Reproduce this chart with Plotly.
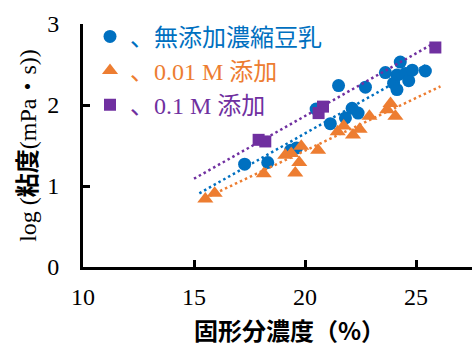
import plotly.graph_objects as go

# Solid content (%) vs log viscosity for three sample groups
blue_name = "、無添加濃縮豆乳"
blue_x = [17.28, 18.32, 19.35, 19.62, 20.50, 21.14, 21.51, 21.82, 22.12, 22.39,
          22.72, 23.62, 24.29, 24.14, 24.52, 24.67, 24.14, 23.99, 25.42, 24.83]
blue_y = [1.27, 1.29, 1.44, 1.47, 1.95, 1.77, 2.24, 1.84, 1.96, 1.90,
          2.22, 2.40, 2.53, 2.37, 2.39, 2.30, 2.19, 2.27, 2.42, 2.43]

orange_name = "、0.01 M 添加"
orange_x = [15.51, 15.93, 18.14, 19.11, 19.38, 19.56, 19.74, 19.83, 20.59, 21.47,
            21.74, 22.16, 22.46, 22.90, 23.70, 23.85, 24.07]
orange_y = [0.84, 0.91, 1.15, 1.38, 1.40, 1.16, 1.29, 1.49, 1.44, 1.67,
            1.74, 1.63, 1.70, 1.86, 1.94, 2.02, 1.86]

purple_name = "、0.1 M 添加"
purple_x = [17.91, 18.21, 20.61, 20.81, 25.87]
purple_y = [1.57, 1.55, 1.90, 1.98, 2.71]

# Linear trend line end points for each group
blue_trend_x = [15.24, 25.42]
blue_trend_y = [0.91, 2.49]
orange_trend_x = [15.50, 26.10]
orange_trend_y = [0.85, 2.23]
purple_trend_x = [15.00, 25.79]
purple_trend_y = [1.09, 2.76]

x_ticks = [10, 15, 20, 25]
y_ticks = [0, 1, 2, 3]

x_title = "<b>固形分濃度（%）</b>"
y_title = "log (<b>粘度</b>(mPa・s))"

BLUE = "#0070C0"
ORANGE = "#ED7D31"
PURPLE = "#7030A0"
SERIF = "Liberation Serif, Noto Sans CJK JP, serif"
GOTHIC = "Noto Sans CJK JP, sans-serif"

fig = go.Figure()

groups = [
    (blue_name, blue_x, blue_y, BLUE, "circle", 13),
    (orange_name, orange_x, orange_y, ORANGE, "triangle-up", 14),
    (purple_name, purple_x, purple_y, PURPLE, "square", 12),
]
for name, xs, ys, color, symbol, size in groups:
    fig.add_trace(go.Scatter(
        x=xs, y=ys, mode="markers",
        name=f"<span style='color:{color}'>{name}</span>",
        marker=dict(color=color, symbol=symbol, size=size, line=dict(width=0)),
    ))

for xs, ys, color in [
    (purple_trend_x, purple_trend_y, PURPLE),
    (blue_trend_x, blue_trend_y, BLUE),
    (orange_trend_x, orange_trend_y, ORANGE),
]:
    fig.add_trace(go.Scatter(
        x=xs, y=ys, mode="lines", showlegend=False,
        line=dict(color=color, width=2.5, dash="2.5px,3px"),
    ))

fig.add_annotation(
    text=x_title, xref="paper", yref="paper",
    x=0.532, y=-0.258, xanchor="center", yanchor="middle",
    showarrow=False, font=dict(family=GOTHIC, size=24, color="black"),
)

fig.update_layout(
    width=472, height=349,
    margin=dict(l=83, r=0, t=24, b=82),
    paper_bgcolor="white", plot_bgcolor="white",
    font=dict(family=SERIF, size=22, color="black"),
    legend=dict(
        x=0.018, y=1.04, xanchor="left", yanchor="top",
        bgcolor="rgba(0,0,0,0)", borderwidth=0,
        font=dict(family=SERIF, size=24),
        itemsizing="trace", tracegroupgap=0,
    ),
    xaxis=dict(
        range=[10, 27.52], tickvals=x_ticks,
        showgrid=False, zeroline=False,
        showline=True, linecolor="black", linewidth=3,
        ticks="inside", ticklen=7, tickwidth=3, tickcolor="black",
        tickfont=dict(family=SERIF, size=24),
        ticklabelstandoff=6,
    ),
    yaxis=dict(
        range=[0, 3], tickvals=y_ticks,
        showgrid=False, zeroline=False,
        showline=True, linecolor="black", linewidth=3,
        ticks="inside", ticklen=7, tickwidth=3, tickcolor="black",
        tickfont=dict(family=SERIF, size=24),
        ticklabelstandoff=16,
        title=dict(text=y_title,
                   font=dict(family=SERIF, size=24), standoff=4),
    ),
)

fig.write_html("out.html")
